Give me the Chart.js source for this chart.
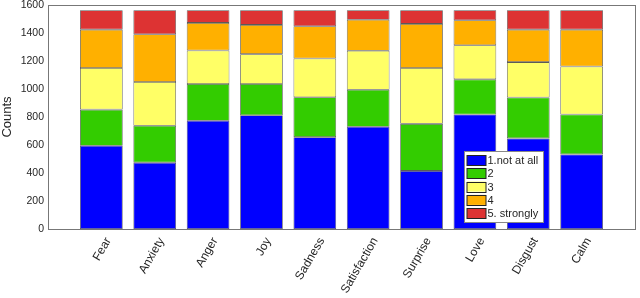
<!DOCTYPE html>
<html>
<head>
<meta charset="utf-8">
<script src="https://cdn.jsdelivr.net/npm/chart.js@4/dist/chart.umd.min.js"></script>
<style>
  html, body { margin: 0; padding: 0; background: #fff; }
  #wrap { width: 640px; height: 298px; position: relative; }
</style>
</head>
<body>
<div id="wrap"><canvas id="grafico"></canvas></div>
<script>
// Categorias y valores
const emociones = ['Fear', 'Anxiety', 'Anger', 'Joy', 'Sadness', 'Satisfaction', 'Surprise', 'Love', 'Disgust', 'Calm'];
const nivel1 = [595, 474, 773, 813, 656, 730, 415, 818, 647, 533];
const nivel2 = [258, 263, 263, 223, 285, 265, 336, 251, 292, 285];
const nivel3 = [297, 313, 239, 213, 277, 278, 399, 244, 253, 343];
const nivel4 = [274, 341, 197, 209, 230, 222, 315, 178, 232, 263];
const nivel5 = [138, 171, 90, 104, 114, 67, 97, 71, 138, 138];
const nombresSeries = ['1.not at all', '2', '3', '4', '5. strongly'];
const coloresSeries = ['#0000ff', '#33cc00', '#ffff66', '#ffb000', '#dd3333'];
const ticksY = [0, 200, 400, 600, 800, 1000, 1200, 1400, 1600];

const fuente = '"Liberation Sans", Arial, sans-serif';
const colorTexto = '#262626';

const series = [nivel1, nivel2, nivel3, nivel4, nivel5];
const datasets = series.map((valores, i) => ({
    label: nombresSeries[i],
    data: valores.map((v, j) => ({ x: j + 1, y: v })),
    backgroundColor: coloresSeries[i],
    borderColor: 'rgba(20,20,20,0.7)',
    borderWidth: 0.8,
    borderSkipped: false,
    barPercentage: 0.8,
    categoryPercentage: 1
}));

// Leyenda dentro del area del grafico (estilo matlab)
const leyendaInterior = {
    id: 'leyendaInterior',
    afterDraw(chart) {
        const { ctx, chartArea } = chart;
        // caja alrededor del area
        ctx.save();
        ctx.strokeStyle = '#777';
        ctx.lineWidth = 1;
        ctx.strokeRect(Math.round(chartArea.left) + 0.5, Math.round(chartArea.top) + 0.5,
            Math.round(chartArea.right - chartArea.left), Math.round(chartArea.bottom - chartArea.top));

        const x0 = Math.round(chartArea.right) - 170.5;
        const y0 = Math.round(chartArea.bottom) - 77.5;
        const w = 79, h = 71;
        ctx.fillStyle = '#fff';
        ctx.fillRect(x0, y0, w, h);
        ctx.strokeStyle = '#888';
        ctx.strokeRect(x0, y0, w, h);
        ctx.font = '11px ' + fuente;
        ctx.textBaseline = 'middle';
        chart.data.datasets.forEach((ds, i) => {
            const cy = y0 + 8.5 + i * 13.3;
            ctx.fillStyle = ds.backgroundColor;
            ctx.fillRect(x0 + 2.5, cy - 5, 19, 10);
            ctx.strokeStyle = '#222';
            ctx.strokeRect(x0 + 2.5, Math.round(cy - 5) + 0.5, 19, 10);
            ctx.fillStyle = colorTexto;
            ctx.fillText(ds.label, x0 + 23, cy + 1);
        });
        ctx.restore();
    }
};

new Chart(document.getElementById('grafico'), {
    type: 'bar',
    data: { datasets },
    options: {
        responsive: true,
        maintainAspectRatio: false,
        animation: false,
        layout: { padding: { top: 5, right: 5, left: 0, bottom: 0 } },
        plugins: {
            legend: { display: false },
            tooltip: { enabled: false }
        },
        scales: {
            x: {
                type: 'linear',
                stacked: true,
                offset: false,
                min: 0,
                max: 11,
                grid: { display: false, drawTicks: false },
                border: { display: true, color: '#555' },
                afterBuildTicks: (scale) => {
                    scale.ticks = emociones.map((_, i) => ({ value: i + 1 }));
                },
                afterFit: (scale) => {
                    scale.height = 69;
                    scale.paddingLeft = 0;
                    scale.paddingRight = 0;
                },
                ticks: {
                    autoSkip: false,
                    minRotation: 60,
                    maxRotation: 60,
                    padding: 6,
                    labelOffset: 7,
                    color: colorTexto,
                    font: { family: fuente, size: 12 },
                    callback: (value) => emociones[value - 1] || ''
                }
            },
            y: {
                stacked: true,
                min: 0,
                max: 1600,
                grid: { display: false, drawTicks: false },
                border: { display: true, color: '#555' },
                afterBuildTicks: (scale) => {
                    scale.ticks = ticksY.map(v => ({ value: v }));
                },
                afterFit: (scale) => {
                    scale.width = 48;
                    scale.paddingTop = 0;
                    scale.paddingBottom = 0;
                },
                title: {
                    display: true,
                    text: 'Counts',
                    color: colorTexto,
                    padding: { top: 0, bottom: 2 },
                    font: { family: fuente, size: 13 }
                },
                ticks: {
                    padding: 4,
                    color: colorTexto,
                    font: { family: fuente, size: 10.5 },
                    callback: (value) => String(value)
                }
            }
        }
    },
    plugins: [leyendaInterior]
});
</script>
</body>
</html>
